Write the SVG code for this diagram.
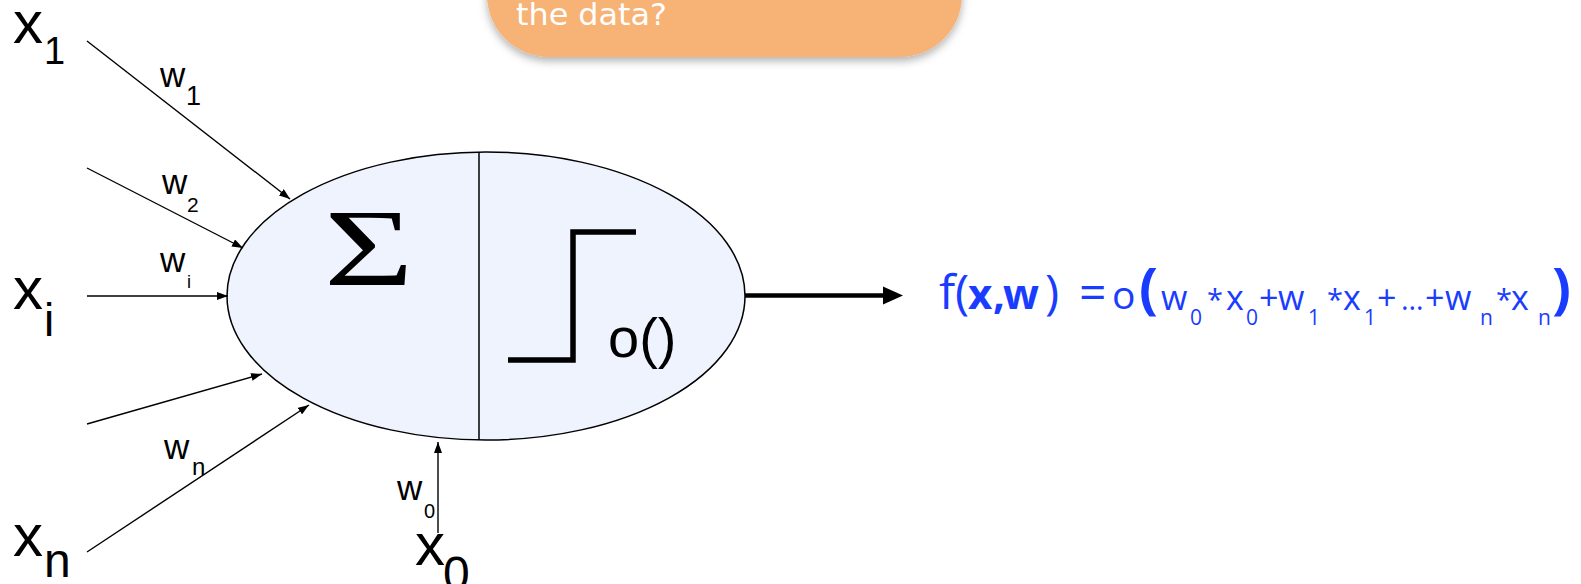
<svg xmlns="http://www.w3.org/2000/svg" width="1581" height="584" viewBox="0 0 1581 584">
<style>
.lbl{font-family:"Liberation Sans",Arial,sans-serif;fill:#000}
.conn{stroke:#000;stroke-width:1.4;fill:none}
.fx{font-family:"Open Sans",Lato,sans-serif;fill:#1a3cff}
.m{font-size:34px}
.a{font-size:29px}
.s{font-size:21px}
.b{font-weight:bold}
</style>
<defs>
<marker id="ah" viewBox="0 0 11 8" refX="11" refY="4" markerWidth="11" markerHeight="8" orient="auto" markerUnits="userSpaceOnUse"><path d="M0,0 L11,4 L0,8 z" fill="#000"/></marker>
<filter id="sh" x="-10%" y="-50%" width="120%" height="200%"><feDropShadow dx="0" dy="4" stdDeviation="4" flood-color="#000" flood-opacity="0.3"/></filter>
</defs>
<rect width="1581" height="584" fill="#fff"/>

<g id="callout">
<rect x="487" y="-70" width="475" height="127" rx="62" ry="62" fill="#f7b275" filter="url(#sh)"/>
<text x="516" y="25" font-family="'DejaVu Sans',sans-serif" font-size="31" fill="#fff" textLength="151" lengthAdjust="spacingAndGlyphs">the data?</text>
</g>

<g id="neuron">
<ellipse cx="486" cy="296" rx="259" ry="144" fill="#eef3fe" stroke="#000" stroke-width="1.5"/>
<line x1="479" y1="152" x2="479" y2="440" stroke="#000" stroke-width="1.5"/>
<text transform="translate(324,285) scale(1.4,1)" x="0" y="0" font-family="'Liberation Serif',serif" font-size="110">Σ</text>
<path d="M508,360 H573 V232 H636" fill="none" stroke="#000" stroke-width="5.5"/>
<text class="lbl" x="608" y="357" font-size="56">o()</text>
</g>

<g id="inputs">
<text class="lbl" x="13" y="43" font-size="60">x<tspan x="44" y="64" font-size="38">1</tspan></text>
<text class="lbl" x="13" y="309" font-size="60">x<tspan x="44" y="336" font-size="46">i</tspan></text>
<text class="lbl" x="13" y="556" font-size="60">x<tspan x="44" y="577" font-size="48">n</tspan></text>
<text class="lbl" x="415" y="565" font-size="60">x<tspan x="443" y="590" font-size="48">0</tspan></text>
</g>

<g id="weights">
<text class="lbl" x="160" y="87" font-size="35">w<tspan x="186" y="105" font-size="27">1</tspan></text>
<text class="lbl" x="162" y="194" font-size="35">w<tspan x="187" y="212" font-size="21">2</tspan></text>
<text class="lbl" x="160" y="272" font-size="35">w<tspan x="187" y="288" font-size="18">i</tspan></text>
<text class="lbl" x="164" y="459" font-size="35">w<tspan x="192" y="475" font-size="24">n</tspan></text>
<text class="lbl" x="397" y="500" font-size="35">w<tspan x="424" y="518" font-size="20">0</tspan></text>
</g>

<g id="connectors">
<line class="conn" x1="87" y1="41" x2="290" y2="199" marker-end="url(#ah)"/>
<line class="conn" x1="87" y1="168" x2="243" y2="248" marker-end="url(#ah)"/>
<line class="conn" x1="87" y1="296" x2="228" y2="296" marker-end="url(#ah)"/>
<line class="conn" x1="87" y1="424" x2="262" y2="374" marker-end="url(#ah)"/>
<line class="conn" x1="87" y1="552" x2="309" y2="405" marker-end="url(#ah)"/>
<line class="conn" x1="438" y1="533" x2="438" y2="442" marker-end="url(#ah)"/>
<line x1="745" y1="295.5" x2="886" y2="295.5" stroke="#000" stroke-width="4.5"/>
<path d="M883,286.5 L903,295.5 L883,304.5 z" fill="#000"/>
</g>

<g id="formula">
<text class="fx" font-size="48"><tspan x="939" y="309">f</tspan><tspan x="955" y="309">(</tspan><tspan class="b" x="968" y="309" font-size="42">x</tspan><tspan class="b" x="993" y="309" font-size="42">,</tspan><tspan class="b" x="1003" y="309" font-size="42">w</tspan><tspan x="1045" y="309">)</tspan><tspan x="1079" y="309">=</tspan><tspan x="1112" y="309" font-size="39">o</tspan><tspan class="b" x="1139" y="308" font-size="56">(</tspan><tspan class="m" x="1161" y="310">w</tspan><tspan class="s" x="1190" y="325">0</tspan><tspan class="a" x="1207" y="310">*</tspan><tspan class="m" x="1226" y="310">x</tspan><tspan class="s" x="1246" y="325">0</tspan><tspan class="m" x="1259" y="310">+</tspan><tspan class="m" x="1278" y="310">w</tspan><tspan class="s" x="1308" y="325">1</tspan><tspan class="a" x="1327" y="310">*</tspan><tspan class="m" x="1343" y="310">x</tspan><tspan class="s" x="1364" y="325">1</tspan><tspan class="m" x="1377" y="310">+</tspan><tspan x="1401" y="310" font-size="29">…</tspan><tspan class="m" x="1425" y="310">+</tspan><tspan class="m" x="1445" y="310">w</tspan><tspan class="s" x="1480" y="325">n</tspan><tspan class="a" x="1496" y="310">*</tspan><tspan class="m" x="1511" y="310">x</tspan><tspan class="s" x="1538" y="325">n</tspan><tspan class="b" x="1552" y="308" font-size="56">)</tspan></text>
</g>
</svg>
